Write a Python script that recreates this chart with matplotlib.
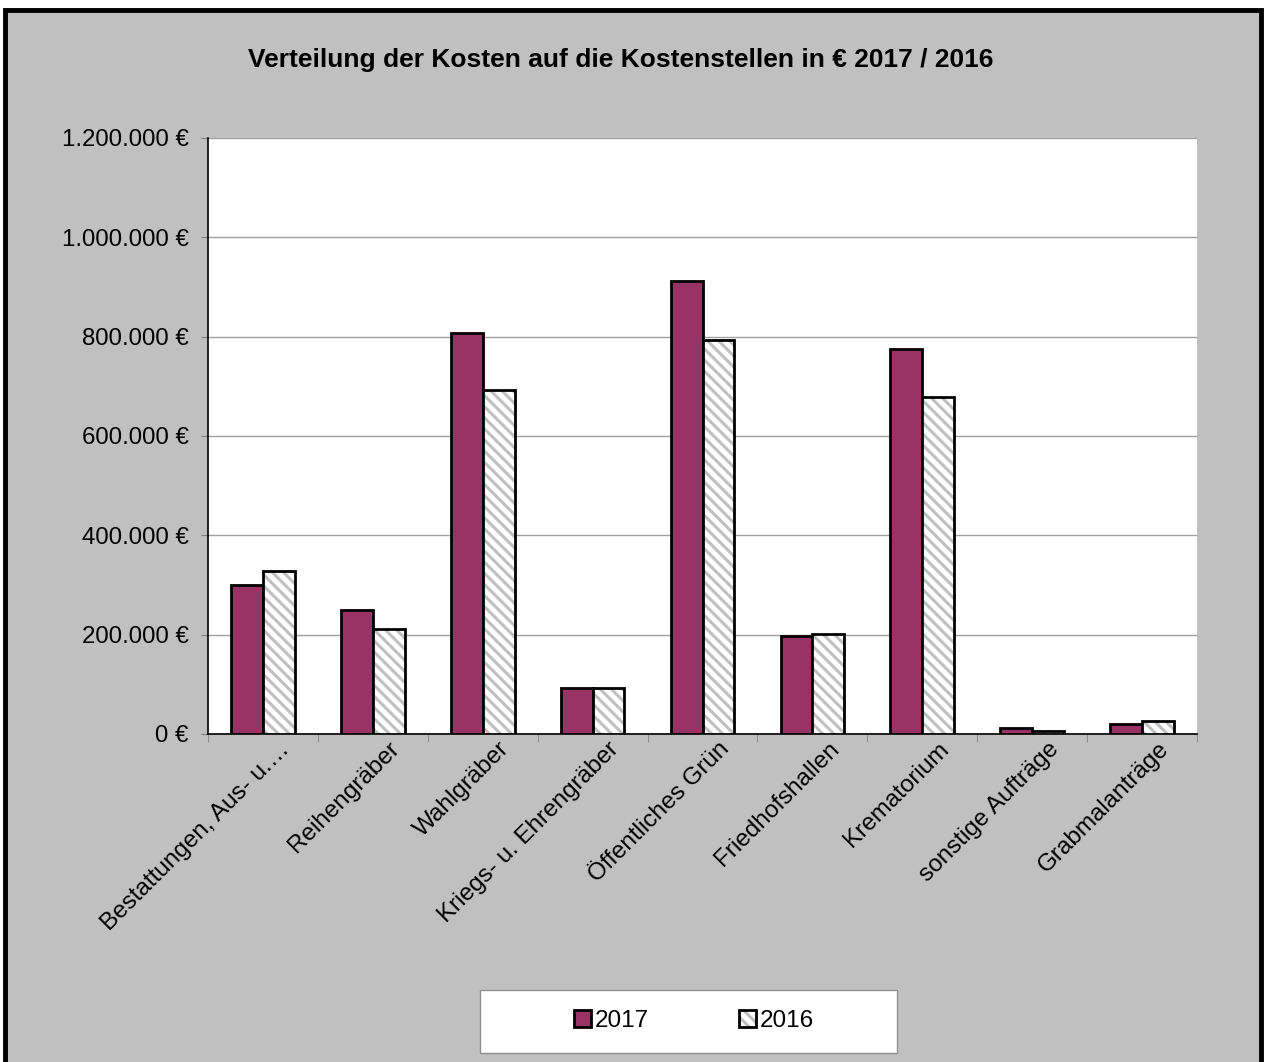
import matplotlib.pyplot as plt
import numpy as np
from matplotlib.patches import Rectangle, Patch
from matplotlib.ticker import FuncFormatter

plt.rcParams['font.family'] = ['Liberation Sans', 'DejaVu Sans']
plt.rcParams['hatch.linewidth'] = 2.2

categories = ['Bestattungen, Aus- u.…', 'Reihengräber', 'Wahlgräber',
              'Kriegs- u. Ehrengräber', 'Öffentliches Grün', 'Friedhofshallen',
              'Krematorium', 'sonstige Aufträge', 'Grabmalanträge']
kosten_2017 = [299000, 249000, 807000, 93000, 912000, 197000, 775000, 12500, 21000]
kosten_2016 = [328000, 211000, 693000, 92000, 793000, 201000, 679000, 6000, 26000]

hatch_grey = '#c0c0c0'

fig = plt.figure(figsize=(12.64, 10.62), dpi=100, facecolor='white')
# grey chart area with heavy black frame
fig.patches.append(Rectangle((5 / 1264, -0.05), 1256 / 1264, 1.05 - 10 / 1062,
                             transform=fig.transFigure, facecolor='#c0c0c0',
                             edgecolor='black', linewidth=3.5, zorder=-5))
# legend box
fig.patches.append(Rectangle((480 / 1264, 9 / 1062), 417 / 1264, 63 / 1062,
                             transform=fig.transFigure, facecolor='white',
                             edgecolor='#909090', linewidth=1, zorder=-4))

ax = fig.add_axes([208 / 1264, 328 / 1062, 989 / 1264, 596 / 1062])
ax.set_facecolor('white')

x = np.arange(len(categories))
w = 0.29
ax.bar(x - w / 2, kosten_2017, w, color='#993366', edgecolor='black', linewidth=2, zorder=3)
ax.bar(x + w / 2, kosten_2016, w, color='white', edgecolor=hatch_grey, hatch='\\\\\\', linewidth=0, zorder=3)
ax.bar(x + w / 2, kosten_2016, w, color='none', edgecolor='black', linewidth=2, zorder=4)

ax.set_xlim(-0.5, len(categories) - 0.5)
ax.set_ylim(0, 1200000)
ax.set_yticks(np.arange(0, 1200001, 200000))
ax.yaxis.set_major_formatter(FuncFormatter(lambda v, p: '{:,.0f} €'.format(v).replace(',', '.')))
ax.yaxis.grid(True, color='#a0a0a0', linewidth=1)
ax.set_axisbelow(True)

ax.set_xticks(x + 0.14)
ax.set_xticklabels(categories, rotation=45, ha='right', rotation_mode='anchor', fontsize=17.5)
ax.tick_params(axis='x', length=0, pad=3)
ax.set_xticks(np.arange(-0.5, len(categories)), minor=True)
ax.tick_params(axis='x', which='minor', length=6, color='#808080', direction='out')
ax.tick_params(axis='y', labelsize=17.3, length=5, color='#808080', pad=9)

for s in ['top', 'right']:
    ax.spines[s].set_visible(False)
ax.spines['left'].set_linewidth(1.2)
ax.spines['bottom'].set_linewidth(1.2)

fig.text(621 / 1264, 1 - 60 / 1062, 'Verteilung der Kosten auf die Kostenstellen in € 2017 / 2016',
         ha='center', va='center', fontsize=19, fontweight='bold')

h2017 = Patch(facecolor='#993366', edgecolor='black', linewidth=2)
h2016 = (Patch(facecolor='white', edgecolor=hatch_grey, hatch='\\\\\\', linewidth=0),
         Patch(facecolor='none', edgecolor='black', linewidth=2))
leg = fig.legend([h2017, h2016], ['2017', '2016'], loc='center',
                 bbox_to_anchor=(694 / 1264, 1 - 1021 / 1062),
                 ncol=2, fontsize=17.5, frameon=False,
                 handlelength=0.7, handleheight=0.7,
                 handletextpad=0.15, columnspacing=3.7)

fig.savefig('out.png', dpi=100, facecolor=fig.get_facecolor())
